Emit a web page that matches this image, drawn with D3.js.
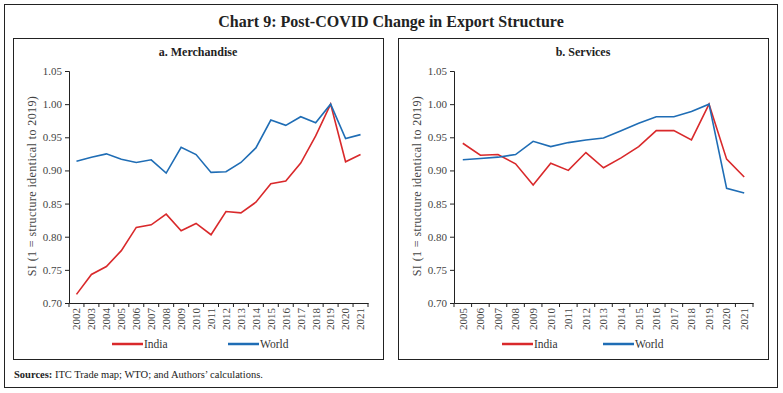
<!DOCTYPE html>
<html>
<head>
<meta charset="utf-8">
<script src="https://cdn.jsdelivr.net/npm/d3@7"></script>
<style>
  body { margin: 0; background: #fff; }
  svg { display: block; font-family: "Liberation Serif", "DejaVu Serif", serif; }
</style>
</head>
<body>
<div id="chart"></div>
<script>
// Merchandise (2002-2021)
const merchYears = d3.range(2002, 2022).map(String);
const merchIndia = [0.713, 0.743, 0.755, 0.779, 0.814, 0.818, 0.834, 0.809, 0.820, 0.803,
                    0.838, 0.836, 0.852, 0.880, 0.884, 0.911, 0.952, 1.000, 0.913, 0.924];
const merchWorld = [0.914, 0.920, 0.925, 0.917, 0.912, 0.916, 0.896, 0.935, 0.924, 0.897,
                    0.898, 0.912, 0.934, 0.976, 0.968, 0.981, 0.972, 1.000, 0.948, 0.954];

// Services (2005-2021)
const servYears = d3.range(2005, 2022).map(String);
const servIndia = [0.941, 0.923, 0.924, 0.910, 0.878, 0.911, 0.900, 0.927, 0.904, 0.919,
                   0.936, 0.960, 0.960, 0.946, 1.000, 0.917, 0.890];
const servWorld = [0.916, 0.918, 0.920, 0.924, 0.944, 0.936, 0.942, 0.946, 0.949, 0.960,
                   0.971, 0.981, 0.981, 0.989, 1.000, 0.873, 0.866];

const yTicks = [0.70, 0.75, 0.80, 0.85, 0.90, 0.95, 1.00, 1.05];
const seriesNames = ["India", "World"];
const colors = { India: "#d9292b", World: "#1f6db5" };

const W = 783, H = 393;
const svg = d3.select("#chart").append("svg")
    .attr("width", W)
    .attr("height", H);

// outer frame
svg.append("rect")
    .attr("x", 4.5).attr("y", 4.5)
    .attr("width", 773).attr("height", 383)
    .attr("fill", "none").attr("stroke", "#222").attr("stroke-width", 1);

svg.append("text")
    .attr("x", 391).attr("y", 27)
    .attr("text-anchor", "middle")
    .attr("font-size", 16)
    .attr("font-weight", "bold")
    .attr("fill", "#222")
    .text("Chart 9: Post-COVID Change in Export Structure");

const sources = svg.append("text")
    .attr("x", 14).attr("y", 378)
    .attr("font-size", 10.5)
    .attr("fill", "#222");
sources.append("tspan").attr("font-weight", "bold").text("Sources: ");
sources.append("tspan").text("ITC Trade map; WTO; and Authors\u2019 calculations.");

function drawPanel(opts) {
    const { x0, boxW, title, years, india, world } = opts;
    const g = svg.append("g");

    // panel box
    g.append("rect")
        .attr("x", x0 + 0.5).attr("y", 38.5)
        .attr("width", boxW).attr("height", 321)
        .attr("fill", "none").attr("stroke", "#222").attr("stroke-width", 1);

    g.append("text")
        .attr("x", x0 + boxW / 2).attr("y", 56)
        .attr("text-anchor", "middle")
        .attr("font-size", 12)
        .attr("font-weight", "bold")
        .attr("fill", "#222")
        .text(title);

    const left = x0 + 56, right = left + 299;
    const top = 71, bottom = 303;

    const x = d3.scaleBand().domain(years).range([left, right]);
    const y = d3.scaleLinear().domain([0.70, 1.05]).range([bottom, top]);

    // y axis
    const yAxis = g.append("g")
        .attr("transform", `translate(${left},0)`)
        .call(d3.axisLeft(y).tickValues(yTicks).tickFormat(d3.format(".2f")).tickSize(4));
    yAxis.selectAll("text").attr("font-size", 11).attr("fill", "#444")
        .style("font-family", "'Liberation Serif', serif");
    yAxis.selectAll("line, path").attr("stroke", "#222");

    // x axis, ticks at band edges
    const xAxis = g.append("g")
        .attr("transform", `translate(0,${bottom})`)
        .call(d3.axisBottom(x).tickSize(0));
    xAxis.select("path").attr("stroke", "#222");
    xAxis.selectAll("text")
        .attr("font-size", 11).attr("fill", "#444")
        .style("font-family", "'Liberation Serif', serif")
        .attr("transform", "rotate(-90)")
        .attr("text-anchor", "end")
        .attr("x", -5).attr("y", 0).attr("dy", "0.35em");
    g.append("g").selectAll("line")
        .data(years.concat(["_end"]))
        .join("line")
        .attr("x1", (d, i) => i < years.length ? x(d) : right)
        .attr("x2", (d, i) => i < years.length ? x(d) : right)
        .attr("y1", bottom).attr("y2", bottom + 4)
        .attr("stroke", "#222");

    // y label
    g.append("text")
        .attr("transform", `translate(${x0 + 23},${(top + bottom) / 2 - 1}) rotate(-90)`)
        .attr("text-anchor", "middle")
        .attr("font-size", 12)
        .attr("letter-spacing", 0.4)
        .attr("fill", "#444")
        .text("SI (1 = structure identical to 2019)");

    const line = d3.line()
        .x((d, i) => x(years[i]) + x.bandwidth() / 2)
        .y(d => y(d));

    const data = { India: india, World: world };
    seriesNames.forEach(name => {
        g.append("path")
            .datum(data[name])
            .attr("d", line)
            .attr("fill", "none")
            .attr("stroke", colors[name])
            .attr("stroke-width", 1.6);
    });

    // legend
    const legX = opts.legX;
    seriesNames.forEach((name, i) => {
        const lx = legX[i];
        g.append("line")
            .attr("x1", lx).attr("x2", lx + 31)
            .attr("y1", 344).attr("y2", 344)
            .attr("stroke", colors[name]).attr("stroke-width", 2.5);
        g.append("text")
            .attr("x", lx + 32).attr("y", 348)
            .attr("font-size", 11.5).attr("fill", "#333")
            .text(name);
    });
}

drawPanel({ x0: 13, boxW: 370, title: "a. Merchandise", years: merchYears,
            india: merchIndia, world: merchWorld, legX: [112, 228] });
drawPanel({ x0: 398, boxW: 370, title: "b. Services", years: servYears,
            india: servIndia, world: servWorld, legX: [502, 603] });
</script>
</body>
</html>
